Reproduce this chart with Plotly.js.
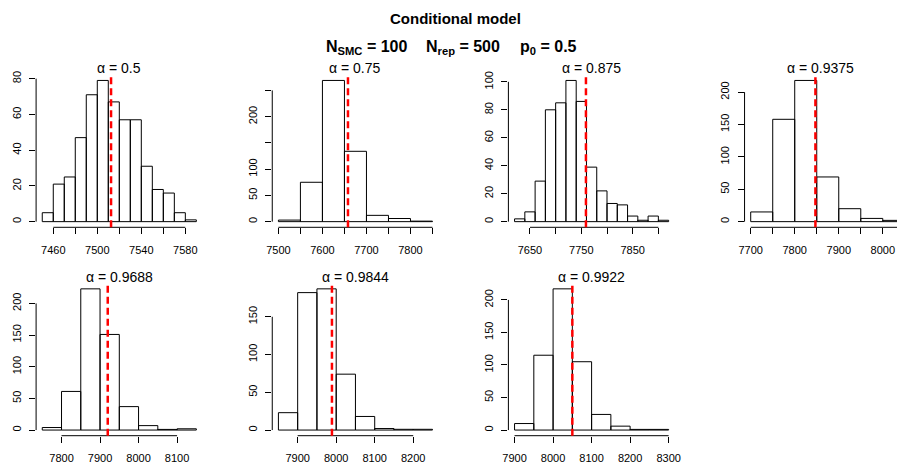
<!DOCTYPE html>
<html><head><meta charset="utf-8">
<script src="https://cdn.plot.ly/plotly-3.0.1.min.js"></script>
<style>html,body{margin:0;padding:0;background:#fff;} #chart{width:897px;height:466px;}</style>
</head><body><div id="chart"></div>
<script>
// ---------------- data ----------------
const alphaLabels = ["0.5", "0.75", "0.875", "0.9375", "0.9688", "0.9844", "0.9922"];
const binStarts = [7450, 7500, 7620, 7700, 7750, 7850, 7900];
const binWidths = [10, 50, 20, 50, 50, 50, 50];
const counts1 = [5, 21, 25, 47, 71, 79, 67, 57, 57, 31, 18, 16, 5, 1];
const counts2 = [3, 75, 269, 134, 12, 6, 1];
const counts3 = [2, 7, 29, 80, 85, 101, 86, 39, 22, 13, 12, 4, 1, 4, 1];
const counts4 = [15, 158, 218, 69, 20, 5, 2];
const counts5 = [4, 61, 223, 151, 37, 7, 1, 2];
const counts6 = [23, 182, 187, 74, 18, 2, 1, 1];
const counts7 = [10, 115, 217, 105, 24, 6, 1, 1];
const refValues = [7512.5, 7658, 7759, 7847, 7920, 7989, 8050];

// all tick positions, and the labels R kept (empty = tick without label)
const xTicks1 = [7460, 7480, 7500, 7520, 7540, 7560, 7580];
const xLabels1 = ["7460", "", "7500", "", "7540", "", "7580"];
const xTicks2 = [7500, 7550, 7600, 7650, 7700, 7750, 7800, 7850];
const xLabels2 = ["7500", "", "7600", "", "7700", "", "7800", ""];
const xTicks3 = [7650, 7700, 7750, 7800, 7850, 7900];
const xLabels3 = ["7650", "", "7750", "", "7850", ""];
const xTicks4 = [7700, 7750, 7800, 7850, 7900, 7950, 8000, 8050];
const xLabels4 = ["7700", "", "7800", "", "7900", "", "8000", ""];
const xTicks5 = [7800, 7900, 8000, 8100];
const xLabels5 = ["7800", "7900", "8000", "8100"];
const xTicks6 = [7900, 8000, 8100, 8200];
const xLabels6 = ["7900", "8000", "8100", "8200"];
const xTicks7 = [7900, 8000, 8100, 8200, 8300];
const xLabels7 = ["7900", "8000", "8100", "8200", "8300"];

const yTicks1 = [0, 20, 40, 60, 80];
const yLabels1 = ["0", "20", "40", "60", "80"];
const yTicks2 = [0, 50, 100, 150, 200, 250];
const yLabels2 = ["0", "50", "100", "", "200", ""];
const yTicks3 = [0, 20, 40, 60, 80, 100];
const yLabels3 = ["0", "20", "40", "60", "80", "100"];
const yTicks4 = [0, 50, 100, 150, 200];
const yLabels4 = ["0", "50", "100", "150", "200"];
const yTicks5 = [0, 50, 100, 150, 200];
const yLabels5 = ["0", "50", "100", "150", "200"];
const yTicks6 = [0, 50, 100, 150];
const yLabels6 = ["0", "50", "100", "150"];
const yTicks7 = [0, 50, 100, 150, 200];
const yLabels7 = ["0", "50", "100", "150", "200"];

const mainTitle = "Conditional model";
const subTitleParts = [
  "N<sub>SMC</sub> = 100",
  "N<sub>rep</sub> = 500",
  "p<sub>0</sub> = 0.5"
];

// ---------------- layout geometry ----------------
const W = 897, H = 466;
const colLeft = [36.1, 272.25, 508.4, 744.55];
const rowTop = [74.8, 283.2];
const plotW = 166.4, plotH = 152.5;
const FONT = "Liberation Sans, Arial, Helvetica, sans-serif";

const allCounts = [counts1, counts2, counts3, counts4, counts5, counts6, counts7];
const allXT = [xTicks1, xTicks2, xTicks3, xTicks4, xTicks5, xTicks6, xTicks7];
const allXL = [xLabels1, xLabels2, xLabels3, xLabels4, xLabels5, xLabels6, xLabels7];
const allYT = [yTicks1, yTicks2, yTicks3, yTicks4, yTicks5, yTicks6, yTicks7];
const allYL = [yLabels1, yLabels2, yLabels3, yLabels4, yLabels5, yLabels6, yLabels7];

const traces = [];
const shapes = [];
const annotations = [];
const layout = {
  width: W, height: H,
  margin: {l: 0, r: 0, t: 0, b: 0},
  paper_bgcolor: "#fff", plot_bgcolor: "rgba(0,0,0,0)",
  showlegend: false,
  font: {family: FONT, size: 11, color: "#000"}
};

function axisTicks(vals, labels, extra) {
  const keepV = [], keepT = [];
  vals.forEach((v, k) => { if (labels[k] !== "") { keepV.push(v); keepT.push(labels[k]); } });
  const ax = Object.assign({
    showgrid: false, zeroline: false, showline: false,
    tickmode: "array", tickvals: keepV, ticktext: keepT,
    ticks: "outside", ticklen: 6, tickwidth: 1, tickcolor: "#000",
    tickfont: {family: FONT, size: 11, color: "#000"},
    fixedrange: true
  }, extra);
  if (keepV.length !== vals.length) {
    ax.minor = {tickmode: "array", tickvals: vals, ticks: "outside",
      ticklen: 6, tickwidth: 1, tickcolor: "#000", showgrid: false};
  }
  return ax;
}

for (let i = 0; i < 7; i++) {
  const n = i + 1;
  const row = i < 4 ? 0 : 1;
  const col = i < 4 ? i : i - 4;
  const counts = allCounts[i];
  const bw = binWidths[i];
  const b0 = binStarts[i];
  const b1 = b0 + bw * counts.length;
  const centers = counts.map((_, k) => b0 + bw * (k + 0.5));
  const ymax = Math.max(...counts);

  // R-style 4% axis extension
  let xr = [b0 - 0.04 * (b1 - b0), b1 + 0.04 * (b1 - b0)];
  const yr = [-0.04 * ymax, 1.04 * ymax];

  const left = colLeft[col];
  let right = left + plotW;
  if (right > W) {
    const frac = (W - left) / plotW;
    xr = [xr[0], xr[0] + (xr[1] - xr[0]) * frac];
    right = W;
  }
  const top = rowTop[row];
  const bottom = top + plotH;

  const xa = n === 1 ? "x" : "x" + n;
  const ya = n === 1 ? "y" : "y" + n;
  const xkey = n === 1 ? "xaxis" : "xaxis" + n;
  const ykey = n === 1 ? "yaxis" : "yaxis" + n;

  layout[xkey] = axisTicks(allXT[i], allXL[i], {
    domain: [left / W, right / W], range: xr, anchor: ya, ticklabelstandoff: 6
  });
  layout[ykey] = axisTicks(allYT[i], allYL[i], {
    domain: [1 - bottom / H, 1 - top / H], range: yr, anchor: xa,
    tickangle: -90, ticklabelstandoff: 4
  });

  traces.push({
    type: "bar", x: centers, y: counts, width: bw,
    xaxis: xa, yaxis: ya,
    marker: {color: "rgba(255,255,255,0)", line: {color: "#000", width: 1}},
    hoverinfo: "skip"
  });

  const xt = allXT[i], yt = allYT[i];
  // x axis line (first to last tick, R style)
  shapes.push({type: "line", xref: xa, yref: ya + " domain",
    x0: xt[0], x1: xt[xt.length - 1], y0: 0, y1: 0,
    line: {color: "#000", width: 1}, layer: "above"});
  // y axis line
  shapes.push({type: "line", xref: xa + " domain", yref: ya,
    x0: 0, x1: 0, y0: yt[0], y1: yt[yt.length - 1],
    line: {color: "#000", width: 1}, layer: "above"});
  // reference value: red dashed vertical line
  shapes.push({type: "line", xref: xa, yref: ya + " domain",
    x0: refValues[i], x1: refValues[i], y0: 0, y1: 1,
    line: {color: "#ff0000", width: 2.5, dash: "7px,4px"}, layer: "above"});

  annotations.push({
    xref: xa + " domain", yref: ya + " domain", x: 0.5, y: 1,
    xanchor: "center", yanchor: "middle", yshift: 6.5, showarrow: false,
    text: "\u03b1 = " + alphaLabels[i],
    font: {family: FONT, size: 14, color: "#000"}
  });
}

annotations.push({
  xref: "paper", yref: "paper", x: 455.8 / W, y: 1 - 18 / H,
  xanchor: "center", yanchor: "middle", showarrow: false,
  text: "<b>" + mainTitle + "</b>", font: {family: FONT, size: 15, color: "#000"}
});
const subCenters = [366.3, 462.5, 548.3];
subTitleParts.forEach((t, k) => {
  annotations.push({
    xref: "paper", yref: "paper", x: subCenters[k] / W, y: 1 - 47 / H,
    xanchor: "center", yanchor: "middle", showarrow: false,
    text: "<b>" + t + "</b>", font: {family: FONT, size: 16, color: "#000"}
  });
});

layout.shapes = shapes;
layout.annotations = annotations;

Plotly.newPlot("chart", traces, layout, {displayModeBar: false, staticPlot: true});
</script>
</body></html>
